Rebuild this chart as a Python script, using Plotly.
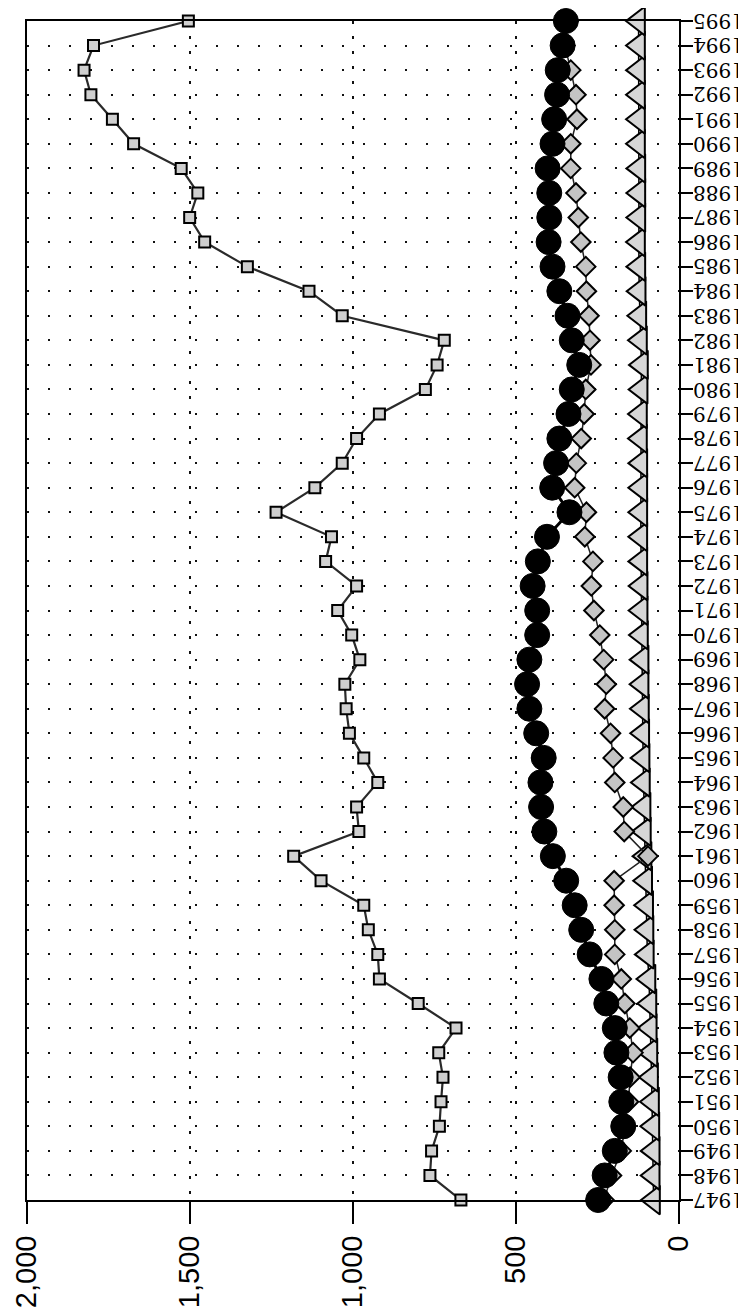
import plotly.graph_objects as go

years = list(range(1947, 1996))

squares = [669, 764, 759, 735, 730, 724, 737, 684, 800, 919, 924, 953, 967, 1098,
           1182, 982, 989, 924, 967, 1011, 1021, 1025, 979, 1004, 1047, 989, 1084,
           1066, 1236, 1117, 1033, 989, 919, 778, 742, 720, 1033, 1135, 1324, 1455,
           1501, 1476, 1527, 1673, 1738, 1804, 1825, 1796, 1505]

circles = [248, 228, 197, 171, 177, 179, 192, 197, 223, 238, 274, 300, 320, 346,
           387, 413, 423, 425, 415, 438, 459, 466, 459, 435, 435, 449, 433, 405,
           336, 389, 377, 367, 339, 329, 306, 329, 342, 367, 388, 400, 398, 398,
           403, 388, 383, 374, 372, 357, 347]

diamonds = [230, 207, 177, 166, 155, 150, 141, 151, 166, 177, 197, 197, 199, 199,
            95, 168, 171, 197, 202, 210, 228, 223, 231, 243, 261, 269, 264, 289,
            284, 320, 315, 300, 291, 286, 270, 273, 276, 284, 286, 301, 309, 316,
            332, 332, 313, 316, 332, 350, 340]

triangles = [78, 79, 79, 80, 81, 84, 86, 88, 89, 92, 97, 98, 99, 102, 104, 106, 107,
             109, 110, 111, 112, 113, 113, 115, 116, 116, 117, 117, 117, 117, 117,
             118, 118, 116, 115, 118, 120, 122, 123, 124, 123, 123, 123, 124, 124,
             124, 124, 124, 124]

year_labels = [str(y) for y in years]
value_ticks = [0, 500, 1000, 1500, 2000]
value_labels = ["0", "500", "1,000", "1,500", "2,000"]

fig = go.Figure()

fig.add_trace(go.Scatter(
    x=triangles, y=years, mode="lines+markers", cliponaxis=False,
    line=dict(color="black", width=1.5),
    marker=dict(symbol="triangle-left", size=25, color="#d6d6d6",
                line=dict(color="black", width=2)),
    showlegend=False))

fig.add_trace(go.Scatter(
    x=diamonds, y=years, mode="lines+markers", cliponaxis=False,
    line=dict(color="#222", width=1.5),
    marker=dict(symbol="diamond", size=15, color="#c4c4c4",
                line=dict(color="black", width=2)),
    showlegend=False))

fig.add_trace(go.Scatter(
    x=circles, y=years, mode="lines+markers", cliponaxis=False,
    line=dict(color="black", width=3),
    marker=dict(symbol="circle", size=25, color="black",
                line=dict(color="black", width=1)),
    showlegend=False))

fig.add_trace(go.Scatter(
    x=squares, y=years, mode="lines+markers", cliponaxis=False,
    line=dict(color="#2a2a2a", width=2.2),
    marker=dict(symbol="square", size=11, color="#cfcfcf",
                line=dict(color="black", width=2)),
    showlegend=False))

# Year labels, printed upside down to the right of the axis
for y, lab in zip(years, year_labels):
    fig.add_annotation(
        x=1, xref="paper", y=y, yref="y", text=lab, showarrow=False,
        textangle=180, xanchor="left", yanchor="middle", xshift=12,
        font=dict(family="DejaVu Serif", size=20, color="black"))

fig.update_layout(
    width=746, height=1315,
    margin=dict(l=19, r=75, t=13, b=123),
    paper_bgcolor="white", plot_bgcolor="white",
    xaxis=dict(
        range=[2000, 0], tickvals=value_ticks, ticktext=value_labels,
        tickangle=-90, ticks="outside", ticklen=22, tickwidth=1.5, tickcolor="black",
        showline=True, mirror=True, linecolor="black", linewidth=2,
        showgrid=True, gridcolor="#111", gridwidth=1.5, griddash="3px,12px",
        zeroline=False, automargin=False,
        tickfont=dict(family="Liberation Sans, Arial", size=29, color="black"),
    ),
    yaxis=dict(
        range=[1947, 1995], tickvals=years, showticklabels=False,
        side="right", ticks="outside", ticklen=12, tickwidth=2, tickcolor="black",
        showline=True, mirror=True, linecolor="black", linewidth=2,
        showgrid=True, gridcolor="#111", gridwidth=2.2, griddash="2px,19px",
        zeroline=False, automargin=False,
    ),
)

fig.write_html("out.html")
